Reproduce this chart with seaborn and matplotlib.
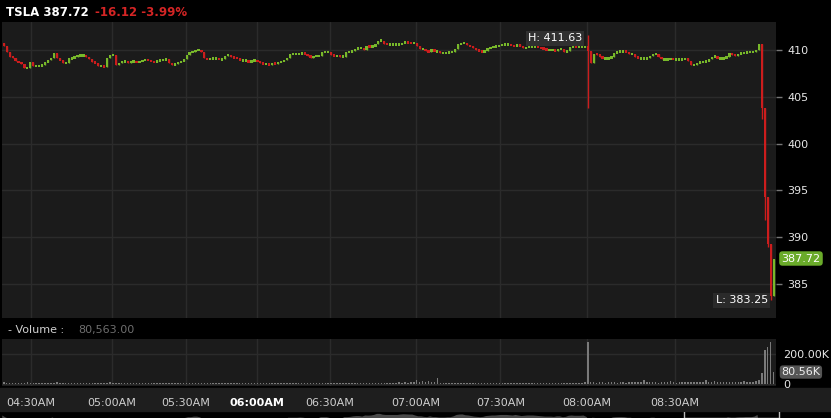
import matplotlib
matplotlib.use("Agg")
import matplotlib.pyplot as plt
import matplotlib.transforms as mtransforms
from matplotlib.patches import Rectangle
import numpy as np
import seaborn as sns

# ---- quote header ----
ticker = "TSLA"
last_price = 387.72
change = -16.12
change_pct = -3.99
last_volume = 80563.00
day_high = 411.63
day_low = 383.25

# ---- 1-minute candles, open = previous close ----
first_open = 410.8
closes = [
    # 04:20 - 04:48
    410.4, 409.75, 409.3, 409.2, 408.8, 408.7, 408.5, 408.1, 408.1, 408.7,
    408.3, 408.3, 408.3, 408.4, 408.7, 408.9, 409.2, 409.7, 409.1, 408.9,
    408.6, 408.6, 409.1, 409.1, 409.3, 409.4, 409.4, 409.4, 409.3, 409.0,
    408.7, 408.6, 408.3, 408.3, 408.2, 409.1, 409.5, 409.5, 408.4, 408.6,
    408.8, 408.8, 408.6, 408.8, 408.8, 408.7, 408.8, 408.9, 409.0, 408.9,
    408.8, 408.7, 408.9, 408.9,
    # 05:00 - 05:50
    409.0, 409.0, 408.6, 408.4, 408.5, 408.7, 408.8, 409.0, 409.5, 409.8,
    409.8, 410.0, 410.0, 409.75, 409.1, 409.0, 409.1, 409.1, 409.1, 409.0,
    409.0, 409.4, 409.5, 409.25, 409.2, 409.1, 408.9, 408.9, 408.9, 408.7,
    408.9, 408.9, 408.8, 408.6, 408.5, 408.5, 408.4, 408.6, 408.5, 408.7,
    408.8, 408.9, 409.2, 409.6, 409.6, 409.6, 409.6, 409.7, 409.6, 409.4,
    409.2, 409.35, 409.35, 409.35,
    # 06:00 - 06:50
    409.8, 409.8, 409.8, 409.5, 409.35, 409.4, 409.3, 409.3, 409.8, 409.8,
    409.9, 410.1, 410.2, 410.2, 410.0, 410.4, 410.35, 410.4, 410.6, 411.0,
    411.0, 410.7, 410.6, 410.6, 410.6, 410.6, 410.6, 410.75, 410.85, 410.8,
    410.75, 410.75, 410.4, 410.1, 410.1, 409.9, 409.8, 410.1, 409.85, 409.85,
    409.7, 409.7, 409.7, 409.8, 409.8, 410.1, 410.6, 410.75, 410.8, 410.5,
    410.4, 410.2, 410.0, 409.9,
    # 07:15 - 07:59
    409.8, 409.9, 410.2, 410.3, 410.4, 410.4, 410.5, 410.6, 410.6, 410.6,
    410.5, 410.4, 410.6, 410.4, 410.2, 410.3, 410.4, 410.4, 410.4, 410.3,
    410.2, 410.1, 410.0, 410.0, 410.0, 409.9, 410.1, 410.1, 409.8, 409.9,
    410.3, 410.4, 410.3, 410.3, 410.3, 410.4,
    # 08:00 spike
    409.9,
    408.6, 409.6, 409.5, 409.3, 409.1, 409.1, 409.1, 409.3, 409.7, 409.8,
    409.85, 409.85, 409.8, 409.6, 409.6, 409.3, 409.1,
    # 08:20 - 08:59
    409.1, 409.1, 409.1, 409.4, 409.6, 409.6, 409.3, 409.0, 409.0, 409.0,
    409.1, 409.0, 409.0, 409.0, 409.0, 409.1, 408.8, 408.4, 408.4, 408.6,
    408.7, 408.8, 408.8, 409.0, 409.3, 409.3, 409.1, 409.1, 409.1, 409.3,
    409.7, 409.5, 409.4, 409.6, 409.7, 409.7, 409.8, 409.8, 409.8, 410.0,
    410.6,
    # the drop
    403.8, 394.3, 389.3, 383.7, 387.72,
]
high_wicks = {198: 411.63}
low_wicks = {198: 403.8, 257: 402.6, 258: 391.8, 259: 388.9, 260: 383.25}

volume_k = [
    14, 9, 10, 8, 11, 9, 8, 10, 12, 9,
    8, 9, 10, 9, 8, 11, 9, 10, 13, 9,
    8, 9, 10, 8, 9, 10, 9, 8, 9, 10,
    9, 8, 10, 9, 8, 9, 12, 10, 9, 8,
    9, 10, 9, 8, 9, 9, 10, 8, 9, 9,
    8, 9, 10, 9, 9, 8, 9, 10, 9, 8,
    9, 10, 9, 8, 9, 9, 11, 10, 9, 8,
    9, 9, 10, 8, 9, 9, 8, 10, 9, 9,
    10, 9, 8, 9, 10, 9, 8, 9, 9, 10,
    9, 8, 9, 10, 9, 9, 8, 9, 10, 9,
    9, 8, 10, 9, 9, 8, 9, 10, 9, 9,
    8, 9, 10, 9, 8, 9, 9, 10, 9, 8,
    9, 10, 9, 9, 8, 9, 10, 9, 8, 9,
    10, 9, 11, 9, 12, 10, 13, 11, 15, 12,
    27, 12, 18, 15, 22, 12, 14, 42, 11, 10,
    9, 10, 9, 8, 9, 10, 9, 9, 8, 9,
    10, 9, 8, 9, 9, 10, 9, 8, 9, 10,
    9, 9, 8, 10, 9, 9, 8, 9, 10, 9,
    9, 8, 9, 10, 9, 8, 9, 9, 10, 9,
    8, 9, 10, 9, 9, 11, 10, 12,
    280,
    16, 12, 11, 12, 13, 11, 12, 14, 12, 11, 13,
    12, 11, 14, 12, 13, 16, 12, 25, 14, 12,
    13, 12, 11, 14, 12, 13, 20, 12, 11, 13,
    12, 14, 13, 12, 15, 13, 14, 12, 30, 14,
    13, 20, 12, 14, 13, 12, 15, 13, 12, 14,
    13, 18, 14, 15, 16, 22, 30,
    73, 227, 249, 278, 80.563,
]

time_labels = ["04:30AM", "05:00AM", "05:30AM", "06:00AM", "06:30AM",
               "07:00AM", "07:30AM", "08:00AM", "08:30AM"]
time_ticks = [9.3, 36.7, 61.8, 85.8, 110.5, 139.6, 168.4, 197.8, 227.6]
price_ticks = [385, 390, 395, 400, 405, 410]

W, H = 831, 418
GREEN = "#78b82a"
RED = "#cc1d1d"
PANEL = "#1b1b1b"
GRID = "#2b2b2b"

sns.set_theme(style="dark", rc={"axes.facecolor": PANEL, "figure.facecolor": "black",
                                "grid.color": GRID, "axes.edgecolor": PANEL})
plt.rcParams["font.family"] = ["DejaVu Sans"]

closes = np.array(closes)
idx = np.arange(len(closes))
opens = np.r_[first_open, closes[:-1]]
highs = np.maximum(opens, closes)
lows = np.minimum(opens, closes)
for k, v in high_wicks.items():
    highs[k] = v
for k, v in low_wicks.items():
    lows[k] = v
up = closes >= opens
colors = np.where(up, GREEN, RED)
body_h = np.maximum(np.abs(closes - opens), 0.26)
body_lo = (opens + closes) / 2 - body_h / 2

fig = plt.figure(figsize=(W / 100, H / 100), dpi=100, facecolor="black")


def px_axes(x0, y0, x1, y1):
    return fig.add_axes([x0 / W, 1 - y1 / H, (x1 - x0) / W, (y1 - y0) / H])


# band behind the time labels
fig.add_artist(Rectangle((0, 1 - 411 / H), 1, 23 / H, transform=fig.transFigure,
                         color="#1e1e1e", zorder=0))

# ---- price panel ----
axp = px_axes(2, 22, 776, 318)
axp.set_facecolor(PANEL)
axp.set_xlim(-0.6, 261.8)
axp.set_ylim(381.36, 413.0)
axp.set_yticks(price_ticks)
axp.set_xticks(time_ticks)
axp.grid(True, color=GRID, lw=1)
axp.set_axisbelow(True)
axp.tick_params(axis="x", length=0, labelbottom=False)
axp.yaxis.tick_right()
axp.tick_params(axis="y", colors="#777777", labelcolor="#e6e6e6", length=4,
                width=1, pad=4, labelsize=8)
for s in axp.spines.values():
    s.set_visible(False)

axp.vlines(idx, lows, highs, colors=colors, lw=1, zorder=2)
axp.bar(idx, body_h, bottom=body_lo, width=0.75, color=colors, lw=0, zorder=3)

hi_i = int(np.argmax(highs))
lo_i = int(np.argmin(lows))
axp.annotate(f"H: {day_high:.2f}", (hi_i, day_high), xytext=(-4, -2.5),
             textcoords="offset points", ha="right", va="center", color="white",
             fontsize=8, bbox=dict(boxstyle="square,pad=0.2", fc="#303030", ec="none"))
axp.annotate(f"L: {day_low:.2f}", (lo_i, day_low), xytext=(-2, 0),
             textcoords="offset points", ha="right", va="center", color="white",
             fontsize=8, bbox=dict(boxstyle="square,pad=0.2", fc="#2a2a2a", ec="none"))
tr = mtransforms.blended_transform_factory(axp.transAxes, axp.transData)
axp.text(1.007, last_price, f"{last_price:.2f}", transform=tr, ha="left", va="center",
         color="white", fontsize=8,
         bbox=dict(boxstyle="round,pad=0.2,rounding_size=0.3", fc="#6aab2a", ec="none"))

# ---- volume panel ----
axv = px_axes(2, 339, 776, 386)
axv.set_facecolor(PANEL)
sns.barplot(x=idx, y=np.array(volume_k) * 1000, native_scale=True, orient="x",
            color="#7a7a7a", saturation=1, width=0.5, errorbar=None,
            linewidth=0, ax=axv)
axv.set_xlim(-0.6, 261.8)
axv.set_ylim(-12000, 300000)
axv.set_yticks([0, 200000])
axv.set_yticklabels(["0", "200.00K"])
axv.set_xticks(time_ticks)
axv.set_xticklabels(time_labels)
axv.grid(True, color=GRID, lw=1)
axv.set_axisbelow(True)
axv.set_xlabel("")
axv.set_ylabel("")
axv.yaxis.tick_right()
axv.tick_params(axis="y", length=0, labelcolor="#e6e6e6", labelsize=8, pad=5)
axv.tick_params(axis="x", length=0, labelcolor="#cfcfcf", labelsize=8, pad=9)
for lab in axv.get_xticklabels():
    if lab.get_text() == "06:00AM":
        lab.set_fontweight("bold")
        lab.set_color("white")
for s in axv.spines.values():
    s.set_visible(False)
trv = mtransforms.blended_transform_factory(axv.transAxes, axv.transData)
axv.text(1.007, last_volume, f"{last_volume / 1000:.2f}K", transform=trv, ha="left",
         va="center", color="#eeeeee", fontsize=8,
         bbox=dict(boxstyle="round,pad=0.15,rounding_size=0.3", fc="#555555", ec="none"))

# ---- navigator strip ----
axn = px_axes(0, 412, 831, 418)
axn.set_facecolor("#1e1e1e")
axn.fill_between(idx, closes, 400, color="#4a4a4a", lw=0)
axn.set_xlim(-0.6, 261.8 * W / 774)
axn.set_ylim(409.3, 411.5)
axn.add_patch(Rectangle((231.3, 409.3), 32, 3, fill=False, ec="#bbbbbb", lw=1))
axn.axis("off")

# ---- header texts ----
fig.text(6 / W, 1 - 12 / H, f"{ticker} {last_price:.2f}", color="white",
         fontsize=8.5, fontweight="bold", va="center")
fig.text(95 / W, 1 - 12 / H, f"{change:.2f} {change_pct:.2f}%", color="#d42525",
         fontsize=8.5, fontweight="bold", va="center")
fig.text(8 / W, 1 - 330 / H, "- Volume : ", color="#d0d0d0", fontsize=8, va="center")
fig.text(78 / W, 1 - 330 / H, f"{last_volume:,.2f}", color="#6e6e6e", fontsize=8,
         va="center")

fig.savefig("out.png", dpi=100, facecolor="black")
